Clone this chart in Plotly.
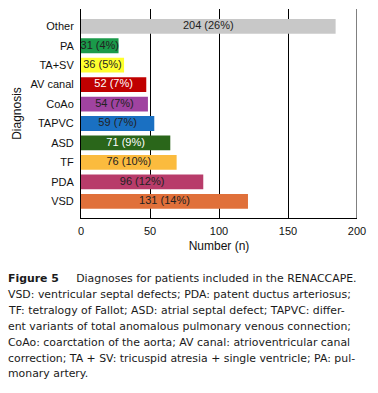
import plotly.graph_objects as go

categories = ["VSD", "PDA", "TF", "ASD", "TAPVC", "CoAo", "AV canal", "TA+SV", "PA", "Other"]
bar_values = [121, 88.6, 69.3, 64.7, 53.1, 48.5, 47.3, 31.2, 27.2, 184.5]
label_texts = ["131 (14%)", "96 (12%)", "76 (10%)", "71 (9%)", "59 (7%)", "54 (7%)",
               "52 (7%)", "36 (5%)", "31 (4%)", "204 (26%)"]
bar_colors = ["#e0703a", "#b83c6a", "#fbbb3e", "#2a661a", "#1a70c2", "#a043a0",
              "#c00000", "#ffff2e", "#1a9a4a", "#c8c8c8"]
label_colors = ["#222222", "#222222", "#222222", "#ffffff", "#222222", "#222222",
                "#ffffff", "#222222", "#222222", "#222222"]
x_ticks = [0, 50, 100, 150, 200]

caption_lines = [
    "<b>Figure 5</b>     Diagnoses for patients included in the RENACCAPE.",
    "VSD: ventricular septal defects; PDA: patent ductus arteriosus;",
    "TF: tetralogy of Fallot; ASD: atrial septal defect; TAPVC: differ-",
    "ent variants of total anomalous pulmonary venous connection;",
    "CoAo: coarctation of the aorta; AV canal: atrioventricular canal",
    "correction; TA + SV: tricuspid atresia + single ventricle; PA: pul-",
    "monary artery.",
]

fig = go.Figure()
fig.add_trace(go.Bar(
    x=bar_values, y=categories, orientation="h",
    marker=dict(color=bar_colors, line=dict(width=0)),
    width=0.76, hoverinfo="skip",
))
fig.add_trace(go.Scatter(
    x=[v / 2 for v in bar_values], y=categories, mode="text",
    text=label_texts,
    textfont=dict(family="Liberation Sans, Arial", size=11, color=label_colors),
    hoverinfo="skip", cliponaxis=False,
))

fig.update_layout(
    width=378, height=393,
    margin=dict(l=81, r=21, t=9, b=175, autoexpand=False),
    paper_bgcolor="white", plot_bgcolor="white",
    showlegend=False,
    font=dict(family="Liberation Sans, Arial", size=11, color="#111111"),
    xaxis=dict(
        range=[0, 200], tickvals=x_ticks, ticks="",
        showgrid=True, gridcolor="black", gridwidth=1,
        zeroline=False, showline=True, linecolor="black", linewidth=1,
        tickfont=dict(size=11), ticklabelstandoff=3,
        title=dict(text="Number (n)", font=dict(size=12), standoff=5),
        automargin=False,
    ),
    yaxis=dict(
        categoryorder="array", categoryarray=categories,
        range=[-0.86, 9.89], ticks="", showgrid=False,
        showline=True, linecolor="black", linewidth=1,
        tickfont=dict(size=11), ticklabelstandoff=4,
        title=dict(text="Diagnosis", font=dict(size=12), standoff=6),
        automargin=False,
    ),
)

fig.add_shape(type="line", xref="x", yref="paper", x0=200, x1=200, y0=0, y1=1,
              line=dict(color="black", width=1), layer="below")

for i, line in enumerate(caption_lines):
    fig.add_annotation(
        text=line, xref="paper", yref="paper",
        x=-75 / 276, y=1 - (278.5 + 15.9 * i - 9) / 209,
        xanchor="left", yanchor="middle", showarrow=False,
        font=dict(family="DejaVu Sans", size=10.9, color="#1a1a1a"),
    )

fig.write_html("out.html", post_script="document.body.style.margin='0';",
               config={"displayModeBar": False, "staticPlot": True})
